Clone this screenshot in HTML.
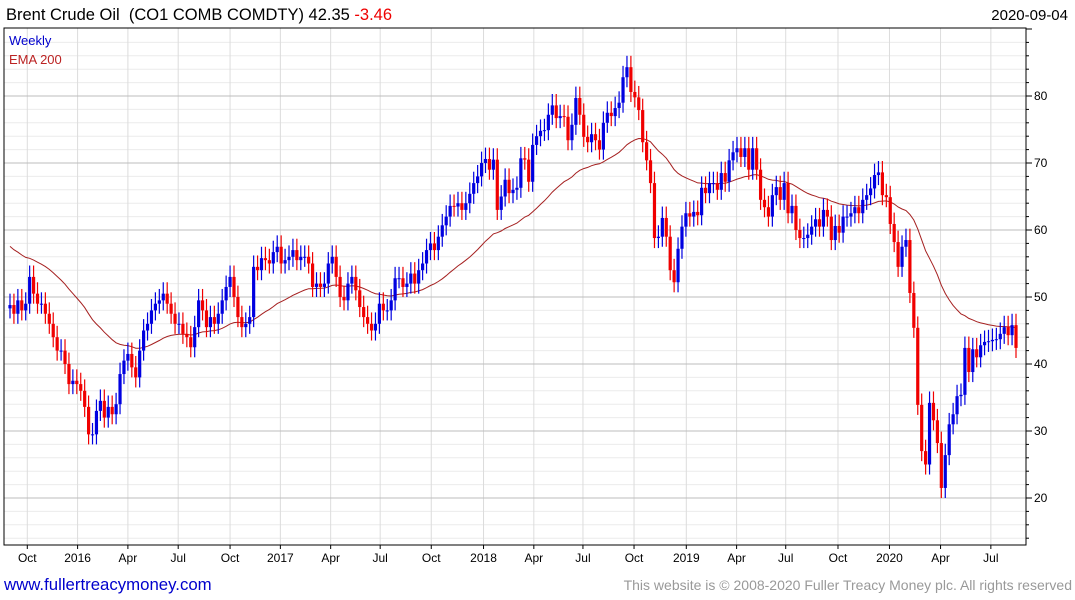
<!DOCTYPE html>
<html><head><meta charset="utf-8"><style>
body{margin:0;background:#fff;font-family:"Liberation Sans",sans-serif;}
svg{display:block}
</style></head><body>
<svg id="c" width="1075" height="600" xmlns="http://www.w3.org/2000/svg">
<text x="6" y="20" font-size="16.5" fill="#000" style="white-space:pre">Brent Crude Oil  (CO1 COMB COMDTY) 42.35 <tspan fill="#e00">-3.46</tspan></text>
<text x="1068" y="20" font-size="15" fill="#000" text-anchor="end">2020-09-04</text>
<g id="grid"></g><g id="ema"></g><g id="candles"></g><g id="axes"></g>
<rect x="4" y="28" width="1022" height="517" fill="none" stroke="#000" stroke-width="1"/>
<text x="9" y="45" font-size="13" fill="#00c">Weekly</text>
<text x="9" y="64" font-size="13" fill="#b22">EMA 200</text>
<text x="4" y="590" font-size="16.8" fill="#00c">www.fullertreacymoney.com</text>
<text x="1072" y="590" font-size="14" fill="#999" text-anchor="end">This website is © 2008-2020 Fuller Treacy Money plc. All rights reserved</text>
</svg>
<script>
const closes=[48.8,47.5,49.5,48,49,53,50.5,49,49,47.5,46,44,42,42,40,37,37.5,37,36,33.6,29.5,29.5,33,34.5,32,33.6,32.5,34,38.5,40.5,41.5,39.5,38,42,45,46,48,49,49.5,50.5,49,47.5,46,46,44.5,44,42.5,45.5,49.5,48,45.5,47,46,47.5,49.5,51.5,53,50,47,45.5,46,47,54.5,54,55.8,
55.5,55,56.7,57.5,55,55.5,56,57,55.5,56,56,55,51.5,52,51.5,52,55,56,53,50,49.5,52,53,51,48.5,47,46,45,46,49,48,48,49.5,52.8,52.8,51.5,52,53.5,52,54,55,57,58,57,59,60.7,
62,63.6,63.5,64,63,64,65.4,67,68,70,70.6,69,70.5,63,65,67.5,65.5,66,66.3,70.7,70.5,67.2,72.7,74,74.8,74.9,77.2,78.6,76.7,77,76.9,73.4,75.7,79.7,77.2,73.9,73.1,74.3,73.4,72,76,77.5,77,78.2,79,82.8,84.3,80.6,79.8,77.9,73.1,70.4,67,58.8,59,61.8,59,54,52.2,57.2,60.5,62.5,62,62.7,62.2,66.3,65.5,67,67,66,68.5,67.2,70.4,71.6,72.2,70.9,72.2,69,
72.2,69,64.5,63.4,62,65.2,66.4,64.5,67,62.5,63.6,60,58.8,58.8,59.3,60.5,61.6,60.5,63,62,58.5,60.6,59.6,62,62,62.5,63.4,62.5,64.5,65.2,66.2,68.2,68.6,65.2,64.9,60.9,58.2,54.5,57.5,58.5,50.6,45.4,33.9,27,25,34.2,31.6,28.2,21.5,26.4,31,32.5,35.2,35.4,42.4,38.8,42.2,41,42.8,43.3,43.4,43.6,43.7,44.5,45.5,44.3,45.8,42.4];
const firstOpen=48.3;
const emaSeed=58;
const yTicks=[20,30,40,50,60,70,80];
const monthLabels=["Oct","2016","Apr","Jul","Oct","2017","Apr","Jul","Oct","2018","Apr","Jul","Oct","2019","Apr","Jul","Oct","2020","Apr","Jul"];
const monthWeeks=[4.4,17.2,30,42.8,56,68.8,81.6,94.2,107.2,120.5,133.3,145.8,158.8,172.1,184.9,197.4,210.7,223.8,236.8,249.6];
const NS="http://www.w3.org/2000/svg";
const y=v=>96+(80-v)*6.7;
const x=i=>10+i*(1006/(closes.length-1));
function mk(t,a,p){const e=document.createElementNS(NS,t);for(const k in a)e.setAttribute(k,a[k]);p.appendChild(e);return e;}
const G=document.getElementById('grid'),A=document.getElementById('axes'),C=document.getElementById('candles'),E=document.getElementById('ema');
for(let v=14;v<=90;v+=2){if(v%10===0)continue;
const l=mk('line',{x1:4,x2:1026,y1:y(v),y2:y(v),stroke:'#ececec'},G);

}
monthWeeks.forEach((w,k)=>{const xx=x(w);
const l=mk('line',{x1:xx,x2:xx,y1:28,y2:545,stroke:'#dcdcdc'},G);


const t=mk('text',{x:xx,y:562,'font-size':12,'text-anchor':'middle',fill:'#000'},A);t.textContent=monthLabels[k];


mk('line',{x1:xx,x2:xx,y1:545,y2:549,stroke:'#000'},A);});
yTicks.forEach(v=>{
const l=mk('line',{x1:4,x2:1026,y1:y(v),y2:y(v),stroke:'#bdbdbd'},G);


const t=mk('text',{x:1034,y:y(v)+4,'font-size':12,fill:'#000'},A);t.textContent=v;

});
for(let v=14;v<=90;v+=2){mk('line',{x1:1026,x2:v%10===0?1032:1029,y1:y(v),y2:y(v),stroke:'#000'},A);}
let pts=[],e=emaSeed;const al=2/41;
closes.forEach((c,i)=>{const o=i?closes[i-1]:firstOpen;const up=c>=o;const col=up?'#0000e0':'#f00000';
const hi=Math.max(o,c)+1.7,lo=Math.min(o,c)-1.5;const xx=x(i);
const w=mk('line',{x1:xx,x2:xx,y1:y(hi),y2:y(lo),stroke:col,'stroke-width':1.2},C);


const b=mk('rect',{x:xx-1.6,y:y(Math.max(o,c)),width:3.2,height:Math.max(1,Math.abs(y(o)-y(c))),fill:col},C);


e=e+al*(c-e);pts.push(xx.toFixed(1)+','+y(e).toFixed(1));});
const pl=mk('polyline',{points:pts.join(' '),fill:'none',stroke:'#a52020','stroke-width':1},E);


</script>
</body></html>
